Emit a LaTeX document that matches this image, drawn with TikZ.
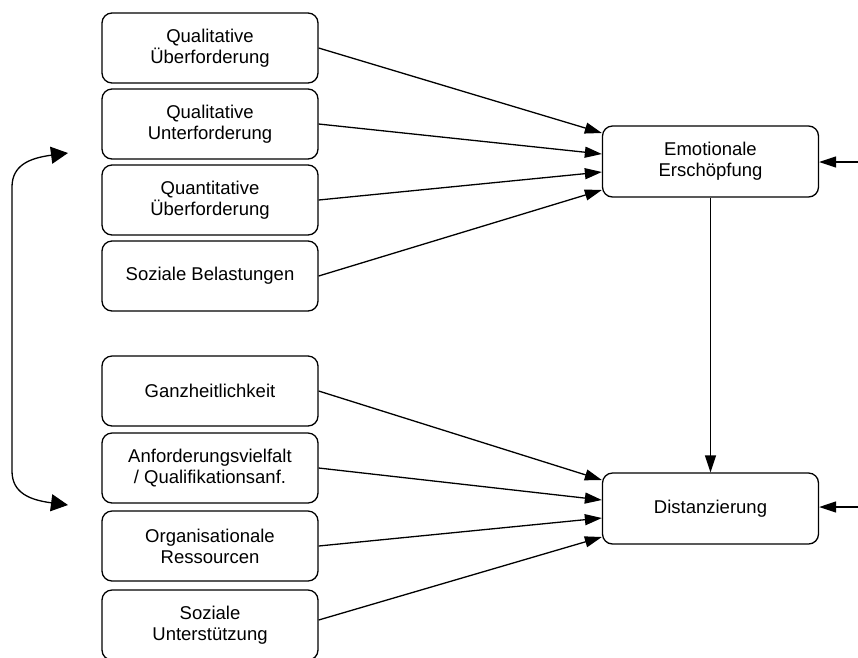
\documentclass[tikz,border=0pt]{standalone}
\usepackage{fontspec}
\setmainfont{Liberation Sans}
\usetikzlibrary{arrows.meta}
\begin{document}
\begin{tikzpicture}[x=1pt,y=-1pt,
  box/.style={draw, rounded corners=10pt, line width=1.3pt, minimum width=216pt, minimum height=70pt, inner sep=0pt, align=center, font=\fontsize{18.5}{21}\selectfont},
  arr/.style={line width=1.3pt, -{Triangle[length=17pt,width=11pt]}},
  bigarr/.style={line width=1.3pt, {Triangle[length=17pt,width=17pt]}-{Triangle[length=17pt,width=17pt]}}]
\useasboundingbox (0,0) rectangle (858,657);
% left boxes
\node[box] (b1) at (210,48) {Qualitative\\Überforderung};
\node[box] (b2) at (210,124) {Qualitative\\Unterforderung};
\node[box] (b3) at (210,200) {Quantitative\\Überforderung};
\node[box] (b4) at (210,276) {Soziale Belastungen};
\node[box] (b5) at (210,391) {Ganzheitlichkeit};
\node[box] (b6) at (210,468) {Anforderungsvielfalt\\/ Qualifikationsanf.};
\node[box] (b7) at (210,546) {Organisationale\\Ressourcen};
\node[box] (b8) at (210,625) {Soziale\\Unterstützung};
% right boxes
\node[box, minimum height=71pt] (emo) at (710.5,161.5) {Emotionale\\Erschöpfung};
\node[box, minimum height=71pt] (dist) at (710.5,508.5) {Distanzierung};
% arrows to emo
\draw[arr] (b1.east) -- ([yshift=28.5pt]emo.west);
\draw[arr] (b2.east) -- ([yshift=7.5pt]emo.west);
\draw[arr] (b3.east) -- ([yshift=-10.5pt]emo.west);
\draw[arr] (b4.east) -- ([yshift=-28.5pt]emo.west);
% arrows to dist
\draw[arr] (b5.east) -- ([yshift=28.5pt]dist.west);
\draw[arr] (b6.east) -- ([yshift=8.5pt]dist.west);
\draw[arr] (b7.east) -- ([yshift=-9.5pt]dist.west);
\draw[arr] ([yshift=5pt]b8.east) -- ([yshift=-28.5pt]dist.west);
% vertical
\draw[arr] (emo.south) -- (dist.north);
% right incoming
\coordinate (r1) at (858,162);
\coordinate (r2) at (858,507);
\draw[arr] (r1) -- (r1 -| emo.east);
\draw[arr] (r2) -- (r2 -| dist.east);
% left curved double arrow
\coordinate (ct) at (68,153);
\coordinate (cb) at (68,505);
\draw[bigarr] (ct) .. controls (30,158) and (12,165) .. (12,187) -- (12,471) .. controls (12,493) and (30,500) .. (cb);
\end{tikzpicture}
\end{document}
